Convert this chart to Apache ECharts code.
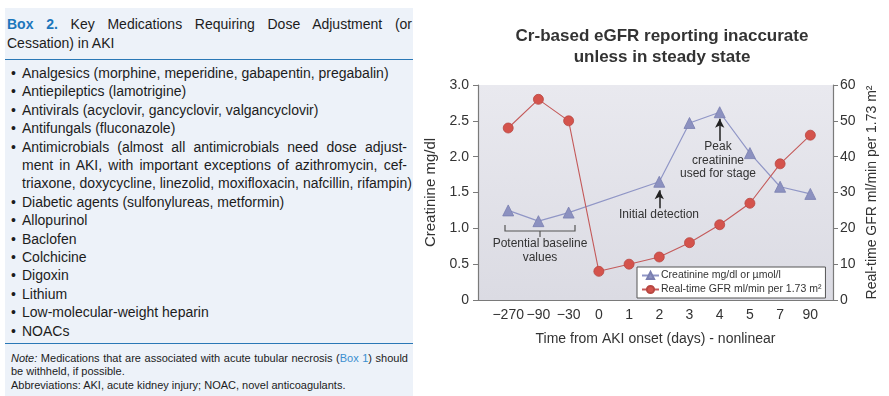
<!DOCTYPE html>
<html>
<head>
<meta charset="utf-8">
<script src="https://cdn.jsdelivr.net/npm/echarts@6/dist/echarts.min.js"></script>
<style>
  html, body { margin: 0; padding: 0; background: #fff; }
  body { width: 889px; height: 396px; position: relative; overflow: hidden;
         font-family: "Liberation Sans", Arial, sans-serif; color: #1c1c1c; }
  #chart { position: absolute; left: 0; top: 0; width: 889px; height: 396px; }
  #box { position: absolute; left: 5px; top: 8px; width: 408px; height: 388px; background: #edf2f9; }
  .ln { position: absolute; white-space: nowrap; }
  .hd { font-size: 14px; line-height: 19px; left: 2px; width: 405px; }
  .just { text-align: justify; text-align-last: justify; }
  .blue { color: #1c76bc; font-weight: bold; }
  .rule { position: absolute; left: 0; width: 408px; height: 1.5px; background: #2a78b6; }
  #list { position: absolute; left: 17px; top: 56px; width: 385px; font-size: 14px; line-height: 18.4px; }
  #list div { position: relative; white-space: nowrap; }
  #list div.b::before { content: "•"; position: absolute; left: -11px; }
  .note { font-size: 11px; line-height: 13.5px; left: 6px; width: 397px; }
  .link { color: #3a8fd0; }
</style>
</head>
<body>
<div id="chart"></div>
<div id="box">
  <div class="ln hd just" style="top:6.5px"><span class="blue">Box 2.</span> Key Medications Requiring Dose Adjustment (or</div>
  <div class="ln hd" style="top:25.5px">Cessation) in AKI</div>
  <div class="rule" style="top:50.5px"></div>
  <div id="list">
    <div class="b">Analgesics (morphine, meperidine, gabapentin, pregabalin)</div>
    <div class="b">Antiepileptics (lamotrigine)</div>
    <div class="b">Antivirals (acyclovir, gancyclovir, valgancyclovir)</div>
    <div class="b">Antifungals (fluconazole)</div>
    <div class="b just">Antimicrobials (almost all antimicrobials need dose adjust-</div>
    <div class="just">ment in AKI, with important exceptions of azithromycin, cef-</div>
    <div>triaxone, doxycycline, linezolid, moxifloxacin, nafcillin, rifampin)</div>
    <div class="b">Diabetic agents (sulfonylureas, metformin)</div>
    <div class="b">Allopurinol</div>
    <div class="b">Baclofen</div>
    <div class="b">Colchicine</div>
    <div class="b">Digoxin</div>
    <div class="b">Lithium</div>
    <div class="b">Low-molecular-weight heparin</div>
    <div class="b">NOACs</div>
  </div>
  <div class="rule" style="top:334.5px"></div>
  <div class="ln note just" style="top:343.5px"><i>Note:</i> Medications that are associated with acute tubular necrosis (<span class="link">Box 1</span>) should</div>
  <div class="ln note" style="top:357px">be withheld, if possible.</div>
  <div class="ln note" style="top:370.5px">Abbreviations: AKI, acute kidney injury; NOAC, novel anticoagulants.</div>
</div>
<script>
// x positions are ordinal (nonlinear time)
const dayLabels = ['\u2212270', '\u221290', '\u221230', '0', '1', '2', '3', '4', '5', '7', '90'];
// creatinine mg/dl (no measurement at day 0 and 1)
const creatinine = [1.25, 1.1, 1.22, null, null, 1.65, 2.47, 2.62, 2.05, 1.58, 1.48];
// real-time GFR ml/min per 1.73 m2
const gfr = [48, 56, 50, 8, 10, 12, 16, 21, 27, 38, 46];
const leftTicks = [0, 0.5, 1.0, 1.5, 2.0, 2.5, 3.0];
const rightTicks = [0, 10, 20, 30, 40, 50, 60];

const FONT = '"Liberation Sans", Arial, sans-serif';
const TXT = '#333';

const crData = [];
creatinine.forEach((v, i) => { if (v !== null) crData.push([i, v]); });
const gfrData = gfr.map((v, i) => [i, v]);

const chart = echarts.init(document.getElementById('chart'));
chart.setOption({
  animation: false,
  textStyle: { fontFamily: FONT },
  title: {
    text: 'Cr-based eGFR reporting inaccurate\nunless in steady state',
    left: 657,
    top: 21,
    textAlign: 'center',
    textStyle: { fontSize: 17, fontWeight: 'bold', color: TXT, lineHeight: 21, fontFamily: FONT }
  },
  grid: {
    left: 478, right: 56, top: 85, bottom: 96,
    show: true,
    borderWidth: 0,
    backgroundColor: new echarts.graphic.LinearGradient(0, 0, 0, 1, [
      { offset: 0, color: '#e9e9ef' },
      { offset: 1, color: '#dbdbe3' }
    ])
  },
  legend: {
    left: 637, top: 267,
    orient: 'vertical',
    backgroundColor: '#fff',
    borderColor: '#555',
    borderWidth: 1,
    borderRadius: 0,
    padding: [3, 4, 3, 4],
    itemGap: 3,
    itemWidth: 17,
    itemHeight: 9,
    textStyle: { fontSize: 10.5, color: TXT, fontFamily: FONT, padding: [0, 0, 0, -3] },
    data: ['Creatinine mg/dl or \u00b5mol/l', 'Real-time GFR ml/min per 1.73 m\u00b2']
  },
  xAxis: {
    type: 'value',
    min: -1, max: 10.75, interval: 1,
    name: 'Time from AKI onset (days) - nonlinear',
    nameLocation: 'middle',
    nameGap: 32,
    nameTextStyle: { fontSize: 14, color: TXT },
    axisLine: { onZero: false, lineStyle: { color: '#7a7a7a', width: 1.2 } },
    axisTick: { show: false },
    splitLine: { show: false },
    axisLabel: {
      fontSize: 14, color: TXT, margin: 8,
      formatter: v => (Number.isInteger(v) && v >= 0 && v < dayLabels.length) ? dayLabels[v] : ''
    }
  },
  yAxis: [{
    type: 'value',
    min: 0, max: 3, interval: 0.5,
    name: 'Creatinine mg/dl',
    nameLocation: 'middle',
    nameRotate: 90,
    nameGap: 40,
    nameTextStyle: { fontSize: 15, color: TXT },
    axisLine: { show: true, onZero: false, lineStyle: { color: '#7a7a7a', width: 1.2 } },
    axisTick: { show: true, length: 5, lineStyle: { color: '#7a7a7a' } },
    splitLine: { show: false },
    axisLabel: {
      fontSize: 14, color: TXT, margin: 9,
      formatter: v => leftTicks.includes(v) ? (v === 0 ? '0' : v.toFixed(1)) : ''
    }
  }, {
    type: 'value',
    position: 'right',
    min: 0, max: 60, interval: 10,
    name: 'Real-time GFR ml/min per 1.73 m\u00b2',
    nameLocation: 'middle',
    nameRotate: 90,
    nameGap: 32,
    nameTextStyle: { fontSize: 14, color: TXT },
    axisLine: { show: true, onZero: false, lineStyle: { color: '#7a7a7a', width: 1.2 } },
    axisTick: { show: true, length: 5, lineStyle: { color: '#7a7a7a' } },
    splitLine: { show: false },
    axisLabel: {
      fontSize: 14, color: TXT, margin: 7,
      formatter: v => rightTicks.includes(v) ? String(v) : ''
    }
  }],
  series: [{
    name: 'Creatinine mg/dl or \u00b5mol/l',
    type: 'line',
    yAxisIndex: 0,
    data: crData,
    symbol: 'triangle',
    symbolSize: 11,
    lineStyle: { color: '#9096c6', width: 1.2 },
    itemStyle: { color: '#8c91c0', borderColor: '#7a7fb0', borderWidth: 0.8 },
    markLine: {
      silent: true,
      symbol: ['none', 'arrow'],
      symbolSize: [7, 9],
      label: { show: false },
      lineStyle: { color: '#222', width: 1.5, type: 'solid' },
      data: [
        [{ coord: [7, 2.22] }, { coord: [7, 2.53] }],
        [{ coord: [5, 1.28] }, { coord: [5, 1.53] }]
      ]
    }
  }, {
    name: 'Real-time GFR ml/min per 1.73 m\u00b2',
    type: 'line',
    yAxisIndex: 1,
    data: gfrData,
    symbol: 'circle',
    symbolSize: 10,
    lineStyle: { color: '#c45a5a', width: 1.1 },
    itemStyle: { color: '#d4534c', borderColor: '#b84842', borderWidth: 0.8 }
  }],
  graphic: [
    { type: 'text', x: 718, y: 140, style: { text: 'Peak\ncreatinine\nused for stage', align: 'center', verticalAlign: 'top', lineHeight: 13.5, fontSize: 12, fontFamily: FONT, fill: TXT } },
    { type: 'text', x: 659, y: 209, style: { text: 'Initial detection', align: 'center', verticalAlign: 'top', fontSize: 12, fontFamily: FONT, fill: TXT } },
    { type: 'text', x: 540, y: 237, style: { text: 'Potential baseline\nvalues', align: 'center', verticalAlign: 'top', lineHeight: 14, fontSize: 12, fontFamily: FONT, fill: TXT } },
    { type: 'polyline', shape: { points: [[505, 225], [505, 231], [575, 231], [575, 225]] }, style: { stroke: '#555', lineWidth: 1.2, fill: null } },
    { type: 'line', shape: { x1: 540, y1: 231, x2: 540, y2: 237 }, style: { stroke: '#555', lineWidth: 1.2 } }
  ]
});
</script>
</body>
</html>
